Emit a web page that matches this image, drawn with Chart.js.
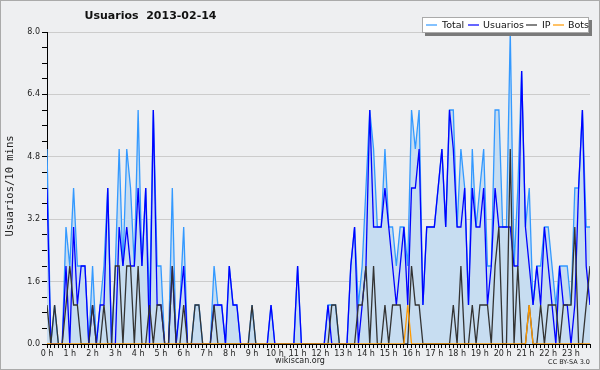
<!DOCTYPE html>
<html>
<head>
<meta charset="utf-8">
<script src="https://cdn.jsdelivr.net/npm/chart.js@4.4.1/dist/chart.umd.min.js"></script>
<style>
  html, body { margin: 0; padding: 0; background: #eeeff1; }
  canvas { display: block; }
</style>
</head>
<body>
<canvas id="usersChart" width="600" height="370"></canvas>
<script>
// hour tick labels, one every 6 points (10 min steps)
const hourLabels = ['0 h','1 h','2 h','3 h','4 h','5 h','6 h','7 h','8 h','9 h','10 h','11 h',
                    '12 h','13 h','14 h','15 h','16 h','17 h','18 h','19 h','20 h','21 h','22 h','23 h'];

// users per 10 minutes, 144 slots
const total = [
    5,0,1,0,0,3, 2,4,2,2,2,0,
    2,0,1,2,4,0, 2,5,2,5,4,2,
    6,2,4,1,6,2, 2,0,0,4,0,1,
    3,0,0,1,1,0, 0,0,2,1,1,0,
    2,1,1,0,0,0, 1,0,0,0,0,1,
    0,0,0,0,0,0, 2,0,0,0,0,0,
    0,0,1,1,1,0, 0,0,2,3,1,2,
    4,6,5,3,3,5, 3,3,2,3,3,2,
    6,5,6,1,3,3, 3,4,5,3,6,6,
    3,5,4,1,5,3, 4,5,2,2,6,6,
    3,3,8,2,4,7, 3,4,1,2,2,3,
    3,2,1,2,2,2, 1,4,4,6,3,3
];
const usuarios = [
    4,0,0,0,0,2, 0,3,1,2,2,0,
    1,0,1,1,4,0, 0,3,2,3,2,2,
    4,2,4,0,6,1, 1,0,0,2,0,1,
    2,0,0,0,0,0, 0,0,1,1,1,0,
    2,1,1,0,0,0, 0,0,0,0,0,1,
    0,0,0,0,0,0, 2,0,0,0,0,0,
    0,0,1,0,0,0, 0,0,2,3,0,1,
    2,6,3,3,3,4, 3,2,1,2,3,1,
    4,4,5,1,3,3, 3,4,5,3,6,5,
    3,3,4,1,4,3, 3,4,1,2,4,3,
    3,3,3,2,2,7, 3,2,1,2,1,3,
    2,1,0,2,1,1, 0,1,4,6,2,1
];
const ip = [
    1,0,1,0,0,1, 2,1,1,0,0,0,
    1,0,0,1,0,0, 2,2,0,2,2,0,
    2,0,0,1,0,1, 1,0,0,2,0,0,
    1,0,0,1,1,0, 0,0,1,0,0,0,
    0,0,0,0,0,0, 1,0,0,0,0,0,
    0,0,0,0,0,0, 0,0,0,0,0,0,
    0,0,0,1,1,0, 0,0,0,0,1,1,
    2,0,2,0,0,1, 0,1,1,1,0,0,
    2,1,1,0,0,0, 0,0,0,0,0,1,
    0,2,0,0,1,0, 1,1,1,0,2,3,
    0,0,5,0,2,0, 0,1,0,0,1,0,
    1,1,1,0,1,1, 1,3,0,0,1,2
];
const bots = [
    0,0,0,0,0,0, 0,0,0,0,0,0,
    0,0,0,0,0,0, 0,0,0,0,0,0,
    0,0,0,0,0,0, 0,0,0,0,0,0,
    0,0,0,0,0,0, 0,0,0,0,0,0,
    0,0,0,0,0,0, 0,0,0,0,0,0,
    0,0,0,0,0,0, 0,0,0,0,0,0,
    0,0,0,0,0,0, 0,0,0,0,0,0,
    0,0,0,0,0,0, 0,0,0,0,0,0,
    0,0,0,0,0,0, 0,0,0,0,0,0,
    0,0,0,0,0,0, 0,0,0,0,0,0,
    0,0,0,0,0,0, 0,1,0,0,0,0,
    0,0,0,0,0,0, 0,0,0,0,0,0
];
bots[95] = 1;

const toPoints = arr => arr.map((v, i) => ({ x: i, y: v }));
const isMajorY = v => Math.abs(v / 1.6 - Math.round(v / 1.6)) < 1e-6;

// legend entries: label, colour, where the sample line and the text start
const legendItems = [
    { label: 'Total', color: '#3399ff', line: 426, text: 442 },
    { label: 'Usuarios', color: '#0000ff', line: 468, text: 483 },
    { label: 'IP', color: '#333333', line: 526, text: 542 },
    { label: 'Bots', color: '#ff9900', line: 553, text: 568 }
];

const decor = {
    id: 'decor',
    beforeDraw(chart) {
        const c = chart.ctx;
        c.save();
        c.fillStyle = '#eeeff1';
        c.fillRect(0, 0, chart.width, chart.height);
        c.restore();
    },
    afterDraw(chart) {
        const c = chart.ctx;
        c.save();
        // title
        c.fillStyle = '#111';
        c.font = 'bold 11px "DejaVu Sans"';
        c.textAlign = 'center';
        c.textBaseline = 'middle';
        c.fillText('Usuarios  2013-02-14', 150.5, 16.5);

        // legend box with shadow
        c.fillStyle = '#7a7a7a';
        c.fillRect(425, 20, 167, 16);
        c.fillStyle = '#ffffff';
        c.fillRect(422, 17, 167, 16);
        c.strokeStyle = '#aaaaaa';
        c.lineWidth = 1;
        c.strokeRect(422.5, 17.5, 166, 15);
        c.font = '9.5px "DejaVu Sans"';
        c.textAlign = 'left';
        legendItems.forEach(item => {
            c.strokeStyle = item.color;
            c.lineWidth = 1.2;
            c.beginPath();
            c.moveTo(item.line, 25);
            c.lineTo(item.line + 11, 25);
            c.stroke();
            c.fillStyle = '#111';
            c.fillText(item.label, item.text, 25.5);
        });

        // axis titles and credit
        c.fillStyle = '#222';
        c.font = '8px "DejaVu Sans"';
        c.textAlign = 'center';
        c.fillText('wikiscan.org', 300, 361);
        c.font = '6.5px "DejaVu Sans"';
        c.textAlign = 'right';
        c.fillText('CC BY-SA 3.0', 590, 362);

        c.translate(10, 186);
        c.rotate(-Math.PI / 2);
        c.font = '10.5px "DejaVu Sans Mono"';
        c.textAlign = 'center';
        c.fillText('Usuarios/10 mins', 0, 0);
        c.restore();

        // outer frame
        c.save();
        c.strokeStyle = '#aaaaaa';
        c.lineWidth = 1;
        c.strokeRect(0.5, 0.5, chart.width - 1, chart.height - 1);
        c.restore();
    }
};

new Chart(document.getElementById('usersChart').getContext('2d'), {
    type: 'line',
    data: {
        datasets: [
            {
                label: 'Bots',
                data: toPoints(bots),
                borderColor: '#ff9900',
                borderWidth: 1.3,
                pointRadius: 0,
                order: 0
            },
            {
                label: 'IP',
                data: toPoints(ip),
                borderColor: '#333333',
                borderWidth: 1.3,
                pointRadius: 0,
                order: 1
            },
            {
                label: 'Usuarios',
                data: toPoints(usuarios),
                borderColor: '#0000ff',
                borderWidth: 1.3,
                pointRadius: 0,
                order: 2
            },
            {
                label: 'Total',
                data: toPoints(total),
                borderColor: '#3399ff',
                backgroundColor: '#c7ddf1',
                fill: 'origin',
                borderWidth: 1.3,
                pointRadius: 0,
                order: 3
            }
        ]
    },
    options: {
        responsive: false,
        animation: false,
        layout: { padding: { top: 32, right: 10, left: 0, bottom: 0 } },
        plugins: {
            legend: { display: false },
            title: { display: false },
            tooltip: { enabled: false }
        },
        scales: {
            x: {
                type: 'linear',
                min: 0,
                max: 143,
                afterFit: s => { s.height = 26; },
                border: { color: '#000', width: 1 },
                grid: { drawOnChartArea: false, tickColor: '#000', tickLength: 4 },
                ticks: {
                    stepSize: 1,
                    autoSkip: false,
                    maxRotation: 0,
                    padding: 1,
                    color: '#222',
                    font: { family: 'DejaVu Sans', size: 8 },
                    callback: v => (v % 6 === 0 ? hourLabels[v / 6] : '')
                }
            },
            y: {
                min: 0,
                max: 8,
                afterFit: s => { s.width = 47; },
                border: { color: '#000', width: 1 },
                grid: {
                    color: ctx => (ctx.tick && isMajorY(ctx.tick.value) ? '#cccccc' : 'rgba(0,0,0,0)'),
                    tickColor: '#000',
                    tickLength: 5
                },
                ticks: {
                    stepSize: 0.4,
                    padding: 2,
                    color: '#222',
                    font: { family: 'DejaVu Sans', size: 8 },
                    callback: v => (isMajorY(v) ? v.toFixed(1) : '')
                }
            }
        }
    },
    plugins: [decor]
});
</script>
</body>
</html>
